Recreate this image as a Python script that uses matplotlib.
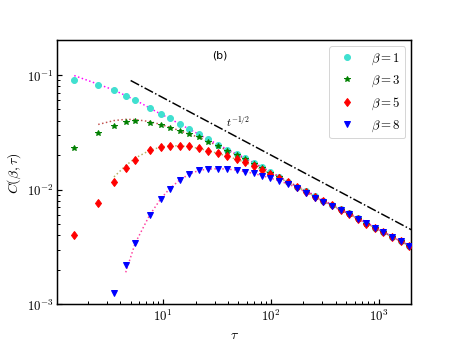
import math
import matplotlib
matplotlib.use("Agg")
import matplotlib.pyplot as plt
from matplotlib.ticker import FuncFormatter

plt.rcParams['mathtext.fontset'] = 'cm'
plt.rcParams['font.family'] = ['DejaVu Sans']

tau = [1.5, 2.5, 3.5, 4.5, 5.5, 7.5, 9.5, 11.5, 14.2, 17.4, 21.4, 26.3, 32.3, 39.4,
       48, 58, 70, 83, 99, 119, 145, 175, 211, 255, 305, 370, 442, 531, 640, 769,
       925, 1105, 1328, 1600, 1905]

C_b1 = [0.091, 0.082, 0.0735, 0.0656, 0.060, 0.0512, 0.0454, 0.0419, 0.0371, 0.0337,
        0.0303, 0.0274, 0.0246, 0.0223, 0.0205, 0.0188, 0.0171, 0.0157, 0.0143, 0.0129,
        0.0117, 0.0106, 0.0098, 0.0088, 0.0080, 0.0074, 0.0068, 0.0062, 0.0056, 0.0051,
        0.00466, 0.00427, 0.00389, 0.00356, 0.00324]
C_b3 = [0.0229, 0.0313, 0.0361, 0.0389, 0.0394, 0.0383, 0.0364, 0.0345, 0.0322, 0.0303,
        0.0285, 0.0262, 0.0238, 0.0218, 0.0200, 0.0184, 0.0168, 0.0155, 0.0141, 0.0128,
        0.0116, 0.0105, 0.0097, 0.0087, 0.0079, 0.0073, 0.0067, 0.0061, 0.00555, 0.00505,
        0.00462, 0.00424, 0.00387, 0.00354, 0.00323]
C_b5 = [0.00401, 0.00767, 0.0117, 0.0154, 0.0183, 0.0223, 0.0234, 0.0242, 0.0242, 0.0238,
        0.0229, 0.0218, 0.0207, 0.0195, 0.0184, 0.0173, 0.0160, 0.0148, 0.01365, 0.01253,
        0.01156, 0.01057, 0.0096, 0.0086, 0.0079, 0.0073, 0.0067, 0.0061, 0.00553, 0.00504,
        0.00461, 0.00423, 0.00386, 0.00354, 0.00322]
C_b8 = [None, None, 0.00125, 0.00222, 0.00341, 0.00599, 0.00834, 0.0102, 0.0121, 0.0136,
        0.0149, 0.0151, 0.0152, 0.0151, 0.0148, 0.0143, 0.01386, 0.0132, 0.01254, 0.01194,
        0.01117, 0.0103, 0.00942, 0.0085, 0.00781, 0.00721, 0.00662, 0.00607, 0.00552, 0.00507,
        0.00461, 0.00423, 0.00385, 0.00353, 0.00321]

# fitted curves (dotted)
fit_b1 = [0.0987, 0.083, 0.0738, 0.066, 0.0605, 0.0515, 0.0456, 0.0418, 0.0373, 0.0338,
          0.0304, 0.0274, 0.0247, 0.0224, 0.0205, 0.0188, 0.0171, 0.0157, 0.0143, 0.0130,
          0.0117, 0.0107, 0.0098, 0.0089, 0.0081, 0.0074, 0.0068, 0.0062, 0.0057, 0.0052,
          0.00467, 0.00428, 0.00390, 0.00356, 0.00326]
fit_b3 = [None, 0.0370, 0.0400, 0.0410, 0.0408, 0.0392, 0.0370, 0.0350, 0.0327, 0.0305,
          0.0286, 0.0263, 0.0240, 0.0219, 0.0201, 0.0184, 0.0169, 0.0155, 0.0142, 0.0129,
          0.0117, 0.0106, 0.0097, 0.0088, 0.0080, 0.0073, 0.0067, 0.0061, 0.0056, 0.0051,
          0.00464, 0.00425, 0.00388, 0.00355, 0.00324]
fit_b5 = [None, None, 0.0129, 0.0162, 0.0188, 0.0220, 0.0235, 0.0241, 0.0241, 0.0237,
          0.0229, 0.0218, 0.0207, 0.0195, 0.0184, 0.0172, 0.0160, 0.0148, 0.0137, 0.0126,
          0.0116, 0.0106, 0.0096, 0.0087, 0.0079, 0.0073, 0.0067, 0.0061, 0.0056, 0.0051,
          0.00462, 0.00424, 0.00387, 0.00354, 0.00323]
fit_b8 = [None, None, None, 0.0019, 0.0034, 0.0060, 0.0083, 0.0102, 0.0121, 0.0136,
          0.0147, 0.0151, 0.0152, 0.0151, 0.0148, 0.0143, 0.0138, 0.0132, 0.0126, 0.0119,
          0.0112, 0.0103, 0.0095, 0.0086, 0.0079, 0.0072, 0.0066, 0.0061, 0.0055, 0.0051,
          0.00462, 0.00424, 0.00386, 0.00354, 0.00322]

guide_tau = [5, 2000]
guide_C = [0.0894, 0.00447]

labels = [r'$\beta=1$', r'$\beta=3$', r'$\beta=5$', r'$\beta=8$']


def pairs(x, y):
    xs = [a for a, b in zip(x, y) if b is not None]
    ys = [b for b in y if b is not None]
    return xs, ys


def logfmt(v, pos):
    if v <= 0:
        return ''
    e = math.log10(v)
    if abs(e - round(e)) > 1e-6:
        return ''
    return r'$10^{%d}$' % round(e)


fig = plt.figure(figsize=(6.4, 4.8), dpi=71.4)
ax = fig.add_axes([0.125, 0.11, 0.775, 0.77])

ax.plot(*pairs(tau, fit_b1), ':', color='magenta', lw=1.5, zorder=1)
ax.plot(*pairs(tau, fit_b3), ':', color='#c0504d', lw=1.5, zorder=1)
ax.plot(*pairs(tau, fit_b5), ':', color='#b5b060', lw=1.5, zorder=1)
ax.plot(*pairs(tau, fit_b8), ':', color='#ff3fa0', lw=1.5, zorder=1)

ax.plot(*pairs(tau, C_b1), 'o', color='turquoise', ms=6, ls='none', label=labels[0], zorder=2)
ax.plot(*pairs(tau, C_b3), '*', color='green', ms=6, ls='none', label=labels[1], zorder=3)
ax.plot(*pairs(tau, C_b5), 'd', color='red', ms=6, ls='none', label=labels[2], zorder=4)
ax.plot(*pairs(tau, C_b8), 'v', color='blue', ms=6, ls='none', label=labels[3], zorder=5)

ax.plot(guide_tau, guide_C, '-.', color='black', lw=1.5, zorder=1)
ax.text(38, 0.036, r'$t^{-1/2}$', fontsize=11)
ax.text(0.46, 0.947, '(b)', transform=ax.transAxes, fontsize=11, ha='center', va='center')

ax.set_xscale('log')
ax.set_yscale('log')
ax.set_xlim(1.04, 2000)
ax.set_ylim(1e-3, 0.2)
ax.xaxis.set_major_formatter(FuncFormatter(logfmt))
ax.yaxis.set_major_formatter(FuncFormatter(logfmt))
ax.set_xlabel(r'$\tau$', fontsize=14)
ax.set_ylabel(r'$C(\beta,\tau)$', fontsize=14)
ax.tick_params(which='both', direction='in', labelsize=13)
ax.tick_params(which='major', length=5, width=1.2)
ax.tick_params(which='minor', length=3, width=1)
for s in ax.spines.values():
    s.set_linewidth(1.5)

ax.legend(loc='upper right', fontsize=13, handletextpad=0.8, borderaxespad=0.45)

fig.savefig('out.png', dpi=71.4)
